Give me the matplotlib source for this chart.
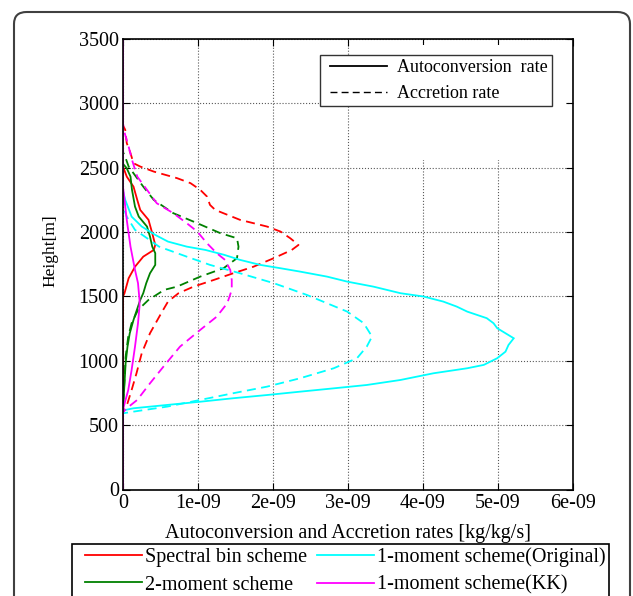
import numpy as np
import matplotlib
matplotlib.use("Agg")
import matplotlib.pyplot as plt
from matplotlib.lines import Line2D
from matplotlib.legend_handler import HandlerLine2D
from matplotlib.patches import FancyBboxPatch, Rectangle

plt.rcParams['font.family'] = ['Liberation Serif', 'DejaVu Serif']
plt.rcParams['font.size'] = 14.5

# rates in units of 1e-9 kg/kg/s, heights in m
sb_auto_h = [0, 1500, 1525, 1641, 1731, 1809, 1861, 1900, 1991, 2095, 2172, 2250, 2353, 2431, 2509, 3500]
sb_auto = [0, 0, 0.02, 0.075, 0.16, 0.27, 0.41, 0.43, 0.39, 0.34, 0.23, 0.19, 0.14, 0.05, 0, 0]

sb_accr_h = [0, 600, 633, 670, 773, 903, 1059, 1214, 1370, 1460, 1525, 1576, 1628, 1680, 1731, 1797,
             1861, 1900, 1952, 2004, 2043, 2095, 2172, 2211, 2276, 2328, 2380, 2419, 2470, 2509, 2535,
             2613, 2691, 2794, 2830, 3500]
sb_accr = [0, 0, 0.03, 0.06, 0.115, 0.18, 0.25, 0.36, 0.51, 0.60, 0.74, 0.94, 1.21, 1.47, 1.74, 2.01,
           2.25, 2.34, 2.23, 2.10, 1.92, 1.56, 1.23, 1.16, 1.12, 1.03, 0.9, 0.72, 0.41, 0.23, 0.14,
           0.1, 0.05, 0.03, 0, 0]

dm_auto_h = [0, 620, 672, 825, 981, 1110, 1214, 1317, 1370, 1421, 1473, 1525, 1603, 1680, 1745, 1836,
             1887, 1965, 2043, 2120, 2198, 2328, 2431, 2496, 2530, 3500]
dm_auto = [0, 0, 0.005, 0.02, 0.035, 0.06, 0.09, 0.14, 0.17, 0.2, 0.23, 0.27, 0.31, 0.36, 0.43, 0.43,
           0.39, 0.36, 0.32, 0.21, 0.16, 0.12, 0.1, 0.05, 0, 0]

dm_accr_h = [0, 650, 851, 1032, 1188, 1292, 1395, 1473, 1499, 1551, 1576, 1654, 1719, 1797, 1887, 1952,
             1991, 2069, 2147, 2250, 2353, 2457, 2509, 2600, 2620, 3500]
dm_accr = [0, 0, 0.02, 0.035, 0.07, 0.115, 0.2, 0.34, 0.41, 0.55, 0.72, 1.03, 1.34, 1.52, 1.54, 1.52,
           1.30, 0.99, 0.67, 0.41, 0.27, 0.14, 0.075, 0.02, 0, 0]

om_auto_h = [0, 610, 618, 631, 657, 682, 709, 734, 760, 786, 812, 851, 903, 942, 968, 1020, 1071, 1123,
             1175, 1214, 1253, 1292, 1331, 1382, 1421, 1460, 1499, 1525, 1576, 1615, 1654, 1693, 1719,
             1745, 1784, 1823, 1861, 1887, 1926, 1978, 2043, 2120, 2250, 2320, 3500]
om_auto = [0, 0, 0.03, 0.14, 0.59, 1.03, 1.47, 1.92, 2.36, 2.81, 3.25, 3.70, 4.14, 4.59, 4.81, 4.99, 5.10, 5.14,
           5.21, 5.10, 4.99, 4.94, 4.85, 4.59, 4.45, 4.27, 4.01, 3.70, 3.34, 2.99, 2.72, 2.36, 2.10,
           1.83, 1.56, 1.35, 1.10, 0.85, 0.60, 0.43, 0.25, 0.115, 0.03, 0, 0]

om_accr_h = [0, 592, 605, 644, 696, 748, 799, 864, 942, 1020, 1110, 1188, 1292, 1382, 1512, 1603, 1680,
             1745, 1809, 1887, 1965, 2017, 2120, 2200, 3500]
om_accr = [0, 0, 0.14, 0.59, 1.03, 1.47, 1.92, 2.36, 2.81, 3.12, 3.25, 3.32, 3.21, 2.99, 2.45, 2.01, 1.56,
           1.16, 0.85, 0.48, 0.29, 0.16, 0.05, 0, 0]

kk_auto_h = [0, 620, 644, 773, 929, 1110, 1292, 1421, 1473, 1603, 1706, 1887, 2095, 2302, 2350, 3500]
kk_auto = [0, 0, 0.01, 0.07, 0.115, 0.16, 0.2, 0.22, 0.22, 0.2, 0.16, 0.1, 0.05, 0.01, 0, 0]

kk_accr_h = [0, 600, 631, 696, 825, 955, 1110, 1240, 1343, 1447, 1551, 1628, 1706, 1784, 1836, 1913,
             2004, 2069, 2147, 2224, 2328, 2431, 2561, 2664, 2794, 2850, 3500]
kk_accr = [0, 0, 0.05, 0.19, 0.36, 0.54, 0.76, 1.03, 1.25, 1.39, 1.45, 1.45, 1.43, 1.36, 1.25, 1.12,
           0.99, 0.85, 0.67, 0.45, 0.32, 0.19, 0.12, 0.075, 0.01, 0, 0]

scheme_names = ['Spectral bin scheme', '2-moment scheme',
                '1-moment scheme(Original)', '1-moment scheme(KK)']
scheme_colors = ['#ff0000', '#008000', '#00ffff', '#ff00ff']
x_ticks = [0, 1e-9, 2e-9, 3e-9, 4e-9, 5e-9, 6e-9]
x_tick_labels = ['0', '1e-09', '2e-09', '3e-09', '4e-09', '5e-09', '6e-09']
y_ticks = [0, 500, 1000, 1500, 2000, 2500, 3000, 3500]

series = [
    (sb_auto_h, sb_auto, sb_accr_h, sb_accr),
    (dm_auto_h, dm_auto, dm_accr_h, dm_accr),
    (om_auto_h, om_auto, om_accr_h, om_accr),
    (kk_auto_h, kk_auto, kk_accr_h, kk_accr),
]

fig = plt.figure(figsize=(6.33, 5.96), dpi=100)

# rounded outer frame
frame = FancyBboxPatch((14 / 633, -0.1), 616 / 633, 1 - 12 / 596 + 0.1,
                       boxstyle="round,pad=0,rounding_size=0.02",
                       transform=fig.transFigure, facecolor='none',
                       edgecolor='0.25', linewidth=1.5)
fig.patches.append(frame)

ax = fig.add_axes([123 / 633, 1 - 489.5 / 596, 450 / 633, 450.5 / 596])
ax.set_axisbelow(True)

dash = (0, (5, 3))
for (ah, av, ch, cv), col in zip(series, scheme_colors):
    ax.plot(np.array(av) * 1e-9, ah, color=col, lw=1.3, solid_joinstyle='miter')
    ax.plot(np.array(cv) * 1e-9, ch, color=col, lw=1.3, linestyle=dash)

ax.set_xlim(0, 6e-9)
ax.set_ylim(0, 3500)
ax.set_xticks(x_ticks)
ax.set_xticklabels(x_tick_labels)
ax.set_yticks(y_ticks)
ax.tick_params(direction='in', top=True, right=True, length=5, width=0.8, labelsize=14.5, pad=3)
ax.grid(True, linestyle=':', color='0.35', linewidth=0.8)
for sp in ax.spines.values():
    sp.set_linewidth(1.2)
ax.set_ylabel('Height[m]', fontsize=12.5)
ax.yaxis.set_label_coords(-0.143, 0.529)
ax.set_xlabel('Autoconversion and Accretion rates [kg/kg/s]', fontsize=14.5, labelpad=8)

# blank area behind the line-style key
ax.add_patch(Rectangle((3.05e-9, 2560), 2.85e-9, 890, facecolor='white',
                       edgecolor='none', zorder=1))

style_handles = [Line2D([], [], color='black', lw=1.3),
                 Line2D([], [], color='black', lw=1.0, linestyle=dash)]
leg1 = ax.legend(style_handles, ['Autoconversion  rate', 'Accretion rate'],
                 loc='upper left', bbox_to_anchor=((320 - 123) / 450, 1 - (55 - 39) / 450.5),
                 fancybox=False, framealpha=1, edgecolor='0.2', handlelength=3.5,
                 handletextpad=0.55, borderpad=0.22, borderaxespad=0, labelspacing=0.5,
                 fontsize=13, handler_map={Line2D: HandlerLine2D(xpad=0.33)})
leg1.get_frame().set_linewidth(1.0)

scheme_handles = [Line2D([], [], color=c, lw=1.3) for c in scheme_colors]
leg2 = fig.legend(scheme_handles, scheme_names, loc='upper left', ncol=2,
                  bbox_to_anchor=(72 / 633, 1 - 544 / 596),
                  fancybox=False, framealpha=1, edgecolor='black', handlelength=3.3,
                  handletextpad=0.15, columnspacing=0.05, borderpad=0.16, borderaxespad=0,
                  labelspacing=0.42, fontsize=14.5,
                  handler_map={Line2D: HandlerLine2D(xpad=0.47)})
leg2.get_frame().set_linewidth(1.2)

fig.savefig('out.png', dpi=100)
